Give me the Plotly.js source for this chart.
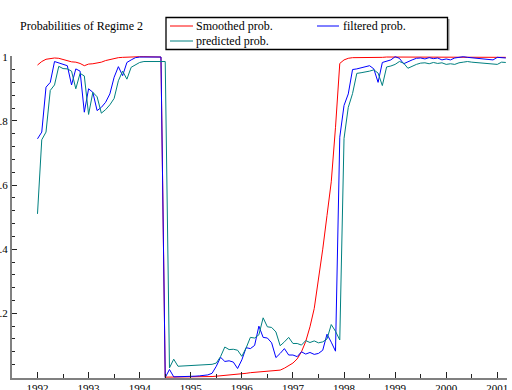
<!DOCTYPE html>
<html>
<head>
<meta charset="utf-8">
<script src="https://cdn.plot.ly/plotly-3.0.1.min.js"></script>
<style>html,body{margin:0;padding:0;background:#fff}#chart{width:512px;height:390px}</style>
</head>
<body>
<div id="chart"></div>
<script>
// Monthly observations starting 1992(1)
const startYear = 1992;
const startMonth = 1;

const smoothedProb = [
0.974,0.985,0.992,0.995,0.996,0.995,0.991,0.988,0.984,0.983,
0.979,0.972,0.977,0.978,0.980,0.983,0.988,0.991,0.995,0.997,
0.998,0.999,0.999,1.000,1.000,1.000,1.000,1.000,1.000,0.999,
0.001,0.001,0.001,0.001,0.001,0.001,0.002,0.002,0.002,0.002,
0.003,0.003,0.004,0.005,0.006,0.007,0.009,0.010,0.012,0.013,
0.015,0.016,0.017,0.018,0.018,0.019,0.020,0.023,0.029,0.036,
0.045,0.058,0.080,0.112,0.158,0.215,0.300,0.400,0.505,0.610,
0.780,0.979,0.990,0.995,0.997,0.997,0.998,0.998,0.998,0.997,
0.996,0.998,0.999,0.999,1.000,0.999,0.998,0.998,0.999,0.999,
0.999,0.999,0.999,0.999,0.999,0.998,0.998,0.998,0.999,1.000,
1.000,0.999,0.999,0.999,0.999,0.998,0.998,0.998,0.999,0.999,
0.998];

const filteredProb = [
0.744,0.765,0.905,0.920,0.985,0.980,0.977,0.972,0.912,0.962,
0.955,0.827,0.900,0.889,0.832,0.842,0.858,0.884,0.936,0.969,
0.941,0.982,0.990,0.997,0.999,0.999,0.999,0.999,0.999,0.999,
0.000,0.025,0.002,0.002,0.003,0.003,0.003,0.004,0.005,0.006,
0.008,0.013,0.035,0.063,0.050,0.052,0.048,0.028,0.055,0.093,
0.090,0.100,0.160,0.125,0.123,0.108,0.062,0.075,0.090,0.070,
0.070,0.065,0.080,0.073,0.078,0.072,0.075,0.085,0.135,0.110,
0.082,0.749,0.848,0.884,0.960,0.962,0.965,0.968,0.972,0.962,
0.920,0.982,0.985,0.990,1.000,0.995,0.978,0.985,0.990,0.995,
0.996,0.993,0.997,0.994,0.996,0.990,0.993,0.990,0.996,0.998,
1.000,0.998,0.997,0.996,0.995,0.993,0.992,0.990,0.998,0.997,
0.996];

const predictedProb = [
0.510,0.741,0.765,0.895,0.912,0.970,0.963,0.962,0.955,0.900,
0.948,0.940,0.820,0.889,0.875,0.824,0.835,0.850,0.870,0.925,
0.955,0.930,0.967,0.975,0.982,0.985,0.985,0.985,0.985,0.985,
0.985,0.030,0.057,0.035,0.036,0.036,0.037,0.037,0.038,0.039,
0.040,0.041,0.045,0.065,0.095,0.087,0.088,0.085,0.066,0.092,
0.125,0.123,0.133,0.186,0.158,0.156,0.142,0.099,0.111,0.125,
0.106,0.106,0.101,0.115,0.109,0.114,0.108,0.111,0.120,0.165,
0.144,0.117,0.745,0.842,0.885,0.948,0.950,0.952,0.955,0.959,
0.949,0.910,0.968,0.971,0.976,0.985,0.980,0.964,0.971,0.976,
0.980,0.981,0.978,0.982,0.979,0.981,0.976,0.978,0.976,0.981,
0.983,0.985,0.983,0.982,0.981,0.980,0.978,0.977,0.976,0.983,
0.982];

const seriesNames = ['Smoothed prob.', 'filtered prob.', 'predicted prob.'];
const seriesColors = ['#ff0000', '#0000ff', '#008080'];
const chartTitle = 'Probabilities of Regime 2';
const xTickVals = [1992,1993,1994,1995,1996,1997,1998,1999,2000,2001];
const xTickText = ['1992','1993','1994','1995','1996','1997','1998','1999','2000','2001'];
const yTickVals = [0.2,0.4,0.6,0.8,1.0];
const yTickText = ['.2','.4','.6','.8','1'];

// time axis (monthly)
const t = smoothedProb.map((_, i) => startYear + (startMonth - 1 + i) / 12);

const W = 512, H = 390, ML = 12, MR = 5, MT = 56, MB = 12;
const px = x => (x - ML) / (W - ML - MR);
const py = y => (H - MB - y) / (H - MT - MB);

const FONT = 'Liberation Serif, Times New Roman, serif';

const seriesData = [smoothedProb, filteredProb, predictedProb];
const traces = seriesData.map((d, k) => ({
  x: t, y: d, type: 'scatter', mode: 'lines', name: seriesNames[k],
  line: {color: seriesColors[k], width: 1}, showlegend: false, hoverinfo: 'skip'
}));

// manual legend (box, samples, labels)
const legendItems = [
  {k: 0, x0: 170, x1: 193, y: 26, tx: 195},
  {k: 2, x0: 170, x1: 193, y: 41, tx: 195},
  {k: 1, x0: 317, x1: 339, y: 26, tx: 342}
];
const shapes = [
  {type: 'line', xref: 'paper', yref: 'paper', x0: px(448.5), x1: px(448.5), y0: py(19), y1: py(50.5),
   line: {color: '#9a9a9a', width: 2}},
  {type: 'rect', xref: 'paper', yref: 'paper', x0: px(166), x1: px(447.5), y0: py(17.5), y1: py(49.5),
   line: {color: '#000', width: 1.3}, fillcolor: 'rgba(0,0,0,0)'}
];
const annotations = [];
legendItems.forEach(it => {
  shapes.push({type: 'line', xref: 'paper', yref: 'paper', x0: px(it.x0), x1: px(it.x1), y0: py(it.y), y1: py(it.y),
    line: {color: seriesColors[it.k], width: 1}});
  annotations.push({xref: 'paper', yref: 'paper', x: px(it.tx), y: py(it.y), xanchor: 'left', yanchor: 'middle',
    text: seriesNames[it.k], showarrow: false, borderpad: 0,
    font: {family: FONT, size: 12, color: '#000'}});
});

const layout = {
  width: W, height: H,
  margin: {l: ML, r: MR, t: MT, b: MB, pad: 0},
  paper_bgcolor: '#fff', plot_bgcolor: '#fff',
  showlegend: false,
  title: {text: chartTitle, xref: 'container', yref: 'container', x: 20 / W, xanchor: 'left',
          y: 1 - 26 / H, yanchor: 'middle', font: {family: FONT, size: 12, color: '#000'}},
  xaxis: {
    range: [1991.501, 2001.19], tickmode: 'array', tickvals: xTickVals, ticktext: xTickText,
    ticks: 'inside', ticklen: 6, tickwidth: 1, tickcolor: '#222', ticklabelstandoff: -1,
    minor: {tickmode: 'linear', tick0: 1991.5, dtick: 1, ticks: 'inside', ticklen: 4, tickwidth: 1, tickcolor: '#222'},
    showgrid: false, zeroline: false, showline: true, linecolor: '#808080', linewidth: 2,
    tickfont: {family: FONT, size: 11, color: '#000'}, fixedrange: true
  },
  yaxis: {
    range: [-0.0016, 1.0022], tickmode: 'array', tickvals: yTickVals, ticktext: yTickText,
    ticks: 'inside', ticklen: 5, tickwidth: 1, tickcolor: '#222',
    minor: {tickmode: 'linear', tick0: 0, dtick: 0.04, ticks: 'inside', ticklen: 3, tickwidth: 1, tickcolor: '#222'},
    showgrid: false, zeroline: false, showline: true, linecolor: '#808080', linewidth: 2,
    tickfont: {family: FONT, size: 11, color: '#000'}, fixedrange: true
  },
  shapes: shapes,
  annotations: annotations
};

Plotly.newPlot('chart', traces, layout, {displayModeBar: false, staticPlot: true});
</script>
</body>
</html>
